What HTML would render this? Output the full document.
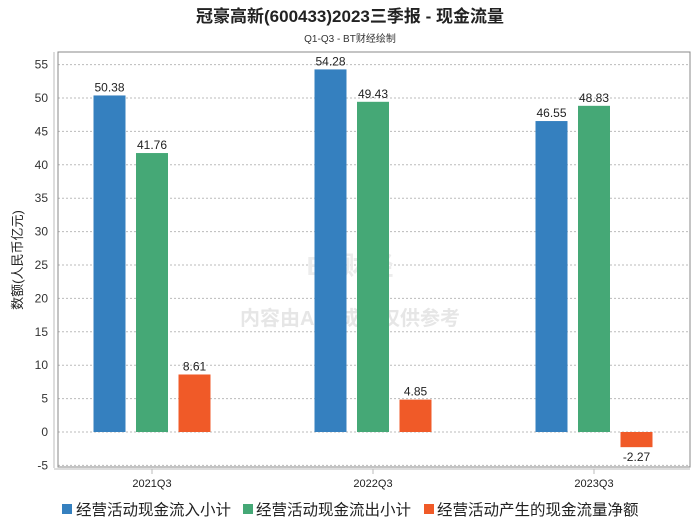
<!DOCTYPE html>
<html><head><meta charset="utf-8"><style>
body{margin:0;background:#fff;font-family:"Liberation Sans","Noto Sans CJK SC",sans-serif;}
</style></head><body>
<svg width="700" height="524" xmlns="http://www.w3.org/2000/svg" font-family="Liberation Sans, Noto Sans CJK SC, sans-serif">
<text x="350" y="22" text-anchor="middle" font-size="17" font-weight="bold" fill="#222">冠豪高新(600433)2023三季报 - 现金流量</text>
<text x="350" y="42" text-anchor="middle" font-size="10" fill="#333">Q1-Q3 - BT财经绘制</text>
<g id="grid"></g>
<rect x="58" y="52" width="632" height="415" fill="none" stroke="#888" stroke-width="1"/>
<line x1="54" y1="52" x2="54" y2="468" stroke="#bbb"/>
<line x1="54" y1="469" x2="690" y2="469" stroke="#bbb"/>
<text x="350" y="275" text-anchor="middle" font-size="26" font-weight="bold" fill="#ececec">BT财经</text>
<text x="350" y="325" text-anchor="middle" font-size="20" font-weight="bold" fill="#e6e6e6">内容由AI生成，仅供参考</text>
<g id="bars"></g>
<text transform="translate(22,260) rotate(-90)" text-anchor="middle" font-size="13" fill="#222">数额(人民币亿元)</text>
<g id="legend">
<rect x="62" y="504" width="10" height="10" fill="#3580bf"/>
<text x="76" y="515" font-size="15.5" fill="#222">经营活动现金流入小计</text>
<rect x="243" y="504" width="10" height="10" fill="#45a876"/>
<text x="256" y="515" font-size="15.5" fill="#222">经营活动现金流出小计</text>
<rect x="424" y="504" width="10" height="10" fill="#f05a28"/>
<text x="437" y="515" font-size="15.5" fill="#222">经营活动产生的现金流量净额</text>
</g>
</svg>
<script>
const categories=["2021Q3","2022Q3","2023Q3"];
const inflow=[50.38,54.28,46.55];
const outflow=[41.76,49.43,48.83];
const net=[8.61,4.85,-2.27];
const yTicks=[-5,0,5,10,15,20,25,30,35,40,45,50,55];
const NS="http://www.w3.org/2000/svg";
const y=v=>432-v*(33.4/5);
const xc=i=>152+i*221;
function mk(t,a,p){const e=document.createElementNS(NS,t);for(const k in a)e.setAttribute(k,a[k]);p.appendChild(e);return e;}
const grid=document.getElementById('grid');
yTicks.forEach(t=>{
 const l=mk('line',{x1:58,x2:690,y1:y(t),y2:y(t),stroke:'#bbb','stroke-dasharray':'2,2'},grid);
 
 
 const tx=mk('text',{x:48,y:y(t)+4,'text-anchor':'end','font-size':12,fill:'#333'},grid);
 tx.textContent=t;
 
 
});
const bars=document.getElementById('bars');
const series=[[inflow,'#3580bf','inflow'],[outflow,'#45a876','outflow'],[net,'#f05a28','net']];
categories.forEach((c,i)=>{
 series.forEach(([d,col,nm],j)=>{
  const v=d[i];const x=xc(i)+(j-1)*42.5-16;
  const top=Math.min(y(v),y(0));const h=Math.abs(y(v)-y(0));
  const r=mk('rect',{x:x,y:top,width:32,height:h,fill:col},bars);
  
  
  const t=mk('text',{x:x+16,y:v>=0?y(v)-4:y(v)+14,'text-anchor':'middle','font-size':12,fill:'#222'},bars);
  t.textContent=v.toFixed(2);
  
  
 });
 const tk=mk('line',{x1:xc(i),x2:xc(i),y1:469,y2:474,stroke:'#bbb'},bars);
 
 
 const lt=mk('text',{x:xc(i),y:487,'text-anchor':'middle','font-size':11,fill:'#222'},bars);
 lt.textContent=c;
 
 
});
</script>
</body></html>
